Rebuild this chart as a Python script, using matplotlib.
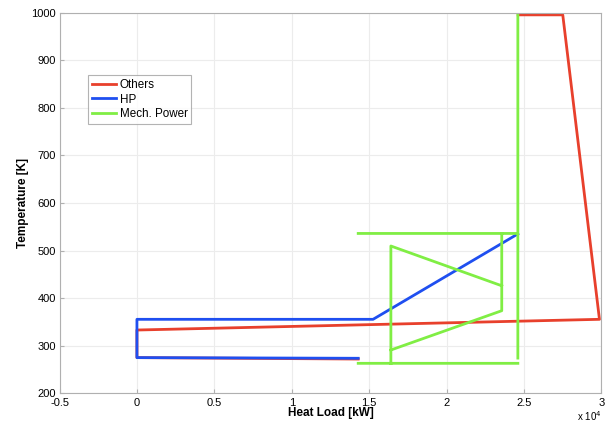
import matplotlib
matplotlib.use("Agg")
import matplotlib.pyplot as plt
import numpy as np

plt.rcParams['font.family'] = ['Liberation Sans', 'DejaVu Sans']

#... data (heat load in kW, temperature in K)
others_q = [14290, 0, 0, 29870, 27500, 24620]
others_t = [272, 275, 333, 355.5, 995.5, 995.5]

hp_q = [14290, 0, 0, 15250, 24600]
hp_t = [273.6, 275, 355.5, 355.5, 535]

mech_q = [24600, 24600, np.nan, 14290, 24600, np.nan, 14290, 24550, np.nan,
          16400, 16400, 23560, np.nan, 16400, 23560, 23560]
mech_t = [995.5, 274, np.nan, 263, 263, np.nan, 536, 536, np.nan,
          263, 509.6, 426, np.nan, 291, 373.6, 536]

scale = 1e4

#... figure
fig = plt.figure(figsize=(6.11, 4.25), dpi=100)
ax = fig.add_axes([0.0974, 0.0746, 0.887, 0.8955])

ax.plot(np.array(others_q) / scale, others_t, color='#e8402c', lw=2, label='Others')
ax.plot(np.array(hp_q) / scale, hp_t, color='#1f4ff0', lw=2, label='HP')
ax.plot(np.array(mech_q) / scale, mech_t, color='#80ee44', lw=2, label='Mech. Power')

ax.set_xlim(-0.5, 3)
ax.set_ylim(200, 1000)
ax.set_xticks(np.arange(-0.5, 3.01, 0.5))
ax.set_xticklabels(['-0.5', '0', '0.5', '1', '1.5', '2', '2.5', '3'])
ax.set_yticks(np.arange(200, 1001, 100))
ax.grid(True, color='#ececec', lw=0.8)
ax.set_axisbelow(True)
for s in ax.spines.values():
    s.set_color('#b0b0b0')
ax.tick_params(direction='in', length=3, color='#b0b0b0', labelsize=8, pad=2.5)
ax.tick_params(axis='x', pad=3.5)

ax.set_xlabel('Heat Load [kW]', fontweight='bold', fontsize=8.5, labelpad=-1)
ax.set_ylabel('Temperature [K]', fontweight='bold', fontsize=8.5, labelpad=1.5)
ax.text(1.0, -0.06, r'x 10$^4$', transform=ax.transAxes, ha='right', va='center', fontsize=7)

leg = ax.legend(loc='upper left', bbox_to_anchor=(0.0526, 0.836), fancybox=False,
                edgecolor='#a0a0a0', fontsize=8.4, handlelength=2.1, borderpad=0.3,
                labelspacing=0.25, handletextpad=0.3, borderaxespad=0)
leg.get_frame().set_linewidth(0.8)

fig.savefig('out.png', dpi=100)
